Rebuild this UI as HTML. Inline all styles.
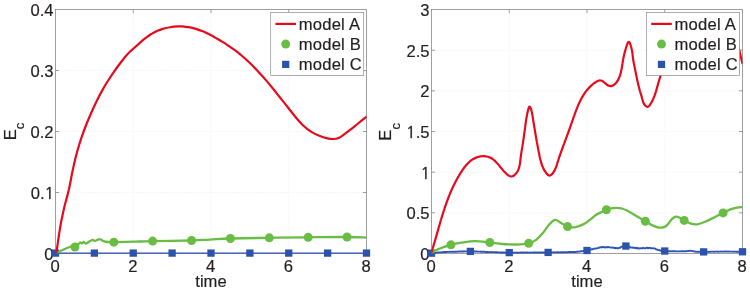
<!DOCTYPE html>
<html><head><meta charset="utf-8"><title>Ec vs time</title>
<style>html,body{margin:0;padding:0;background:#fff}svg{display:block}text{stroke:#231f20;stroke-width:.18px}</style></head>
<body>
<svg width="750" height="291" viewBox="0 0 750 291" font-family="'Liberation Sans', Arial, Helvetica, sans-serif" font-size="16.6" fill="#231f20">
<rect width="750" height="291" fill="#fff"/>
<line x1="133.25" y1="9.5" x2="133.25" y2="253.5" stroke="#eeeeee" stroke-width="1" stroke-dasharray="1 2"/>
<line x1="211.00" y1="9.5" x2="211.00" y2="253.5" stroke="#eeeeee" stroke-width="1" stroke-dasharray="1 2"/>
<line x1="288.75" y1="9.5" x2="288.75" y2="253.5" stroke="#eeeeee" stroke-width="1" stroke-dasharray="1 2"/>
<line x1="55.5" y1="192.50" x2="366.5" y2="192.50" stroke="#eeeeee" stroke-width="1" stroke-dasharray="1 2"/>
<line x1="55.5" y1="131.50" x2="366.5" y2="131.50" stroke="#eeeeee" stroke-width="1" stroke-dasharray="1 2"/>
<line x1="55.5" y1="70.50" x2="366.5" y2="70.50" stroke="#eeeeee" stroke-width="1" stroke-dasharray="1 2"/>
<rect x="55.5" y="9.5" width="311.0" height="244.0" fill="none" stroke="#808080" stroke-width="0.75"/>
<path d="M133.25 253.5v-3.5M133.25 9.5v3.5M211.00 253.5v-3.5M211.00 9.5v3.5M288.75 253.5v-3.5M288.75 9.5v3.5M55.5 192.50h3.5M366.5 192.50h-3.5M55.5 131.50h3.5M366.5 131.50h-3.5M55.5 70.50h3.5M366.5 70.50h-3.5" stroke="#808080" stroke-width="0.75" fill="none"/>
<text x="53.50" y="259.95" text-anchor="end">0</text>
<text x="54.10" y="198.95" text-anchor="end">0.<tspan font-family="NanumGothic, 'Liberation Sans', sans-serif" font-size="15.8" style="stroke-width:.45px">1</tspan></text>
<text x="53.50" y="137.95" text-anchor="end">0.2</text>
<text x="53.50" y="76.95" text-anchor="end">0.3</text>
<text x="53.50" y="15.95" text-anchor="end">0.4</text>
<text x="55.20" y="272.0" text-anchor="middle">0</text>
<text x="132.95" y="272.0" text-anchor="middle">2</text>
<text x="210.70" y="272.0" text-anchor="middle">4</text>
<text x="288.45" y="272.0" text-anchor="middle">6</text>
<text x="366.20" y="272.0" text-anchor="middle">8</text>
<text x="211.00" y="287" text-anchor="middle">time</text>
<text transform="translate(15.60 140.3) rotate(-90)">E<tspan dy="8.4" font-size="13.2">c</tspan></text>
<clipPath id="cp1"><rect x="55.5" y="9.5" width="311.0" height="244.0"/></clipPath>
<path d="M55.50 253.10C107.33 253.10 314.67 253.10 366.50 253.10" stroke="#3054b6" stroke-linejoin="round" stroke-width="1.4" fill="none"/>
<rect x="51.85" y="249.45" width="7.3" height="7.3" fill="#2c53ac"/>
<rect x="90.72" y="249.45" width="7.3" height="7.3" fill="#2c53ac"/>
<rect x="129.60" y="249.45" width="7.3" height="7.3" fill="#2c53ac"/>
<rect x="168.47" y="249.45" width="7.3" height="7.3" fill="#2c53ac"/>
<rect x="207.35" y="249.45" width="7.3" height="7.3" fill="#2c53ac"/>
<rect x="246.22" y="249.45" width="7.3" height="7.3" fill="#2c53ac"/>
<rect x="285.10" y="249.45" width="7.3" height="7.3" fill="#2c53ac"/>
<rect x="323.98" y="249.45" width="7.3" height="7.3" fill="#2c53ac"/>
<rect x="362.85" y="249.45" width="7.3" height="7.3" fill="#2c53ac"/>
<g clip-path="url(#cp1)" fill="none" stroke-linejoin="round">
<path d="M56.20 253.00C57.18 252.55 60.07 251.22 62.10 250.30C64.13 249.38 66.38 248.28 68.40 247.50C70.42 246.72 72.77 246.08 74.20 245.60C75.63 245.12 76.18 244.93 77.00 244.60C77.82 244.27 78.53 243.95 79.10 243.60C79.67 243.25 79.95 242.53 80.40 242.50C80.85 242.47 81.27 243.48 81.80 243.40C82.33 243.32 83.08 242.03 83.60 242.00C84.12 241.97 84.45 242.97 84.90 243.20C85.35 243.43 85.63 243.63 86.30 243.40C86.97 243.17 88.02 242.33 88.90 241.80C89.78 241.27 90.93 240.52 91.60 240.20C92.27 239.88 92.38 239.78 92.90 239.90C93.42 240.02 94.02 240.88 94.70 240.90C95.38 240.92 96.18 240.30 97.00 240.00C97.82 239.70 98.87 239.12 99.60 239.10C100.33 239.08 100.65 239.52 101.40 239.90C102.15 240.28 103.00 241.05 104.10 241.40C105.20 241.75 106.35 241.87 108.00 242.00C109.65 242.13 109.83 242.25 114.00 242.20C118.17 242.15 126.60 241.88 133.00 241.70C139.40 241.52 142.77 241.30 152.40 241.10C162.03 240.90 181.20 240.75 190.80 240.50C200.40 240.25 203.38 239.93 210.00 239.60C216.62 239.27 220.57 238.80 230.50 238.50C240.43 238.20 256.58 238.00 269.60 237.80C282.62 237.60 295.67 237.43 308.60 237.30C321.53 237.17 337.53 236.95 347.20 237.00C356.87 237.05 363.37 237.50 366.60 237.60" stroke="#69bd45" stroke-width="2.3"/>
</g>
<circle cx="74.94" cy="247.00" r="4.5" fill="#69bd45"/>
<circle cx="113.81" cy="242.19" r="4.5" fill="#69bd45"/>
<circle cx="152.69" cy="241.10" r="4.5" fill="#69bd45"/>
<circle cx="191.56" cy="240.46" r="4.5" fill="#69bd45"/>
<circle cx="230.44" cy="238.50" r="4.5" fill="#69bd45"/>
<circle cx="269.31" cy="237.81" r="4.5" fill="#69bd45"/>
<circle cx="308.19" cy="237.31" r="4.5" fill="#69bd45"/>
<circle cx="347.06" cy="237.00" r="4.5" fill="#69bd45"/>
<g clip-path="url(#cp1)" fill="none" stroke-linejoin="round">
<path d="M56.40 253.20C56.63 251.48 57.37 246.02 57.80 242.90C58.23 239.78 58.63 236.90 59.00 234.50C59.37 232.10 59.67 230.50 60.00 228.50C60.33 226.50 60.67 224.30 61.00 222.50C61.33 220.70 61.63 219.43 62.00 217.70C62.37 215.97 62.80 213.92 63.20 212.10C63.60 210.28 63.87 208.97 64.40 206.80C64.93 204.63 65.65 201.97 66.40 199.10C67.15 196.23 67.92 194.08 68.90 189.60C69.88 185.12 71.15 177.68 72.30 172.20C73.45 166.72 74.65 161.28 75.80 156.70C76.95 152.12 78.07 148.42 79.20 144.70C80.33 140.98 81.45 137.69 82.60 134.40C83.75 131.11 84.85 128.12 86.10 124.97C87.35 121.81 88.77 118.53 90.10 115.45C91.43 112.37 92.77 109.36 94.10 106.49C95.43 103.61 96.77 100.85 98.10 98.21C99.43 95.57 100.77 93.06 102.10 90.65C103.43 88.25 104.77 85.98 106.10 83.79C107.43 81.59 108.77 79.52 110.10 77.49C111.43 75.46 112.77 73.51 114.10 71.59C115.43 69.68 116.77 67.82 118.10 66.00C119.43 64.19 120.77 62.41 122.10 60.71C123.43 59.01 124.77 57.34 126.10 55.81C127.43 54.28 128.77 52.80 130.10 51.51C131.43 50.21 132.77 49.21 134.10 48.04C135.43 46.86 136.77 45.66 138.10 44.46C139.43 43.26 140.77 42.00 142.10 40.87C143.43 39.74 144.77 38.70 146.10 37.68C147.43 36.67 148.77 35.66 150.10 34.78C151.43 33.91 152.77 33.13 154.10 32.43C155.43 31.73 156.77 31.13 158.10 30.58C159.43 30.04 160.77 29.57 162.10 29.15C163.43 28.72 164.77 28.36 166.10 28.04C167.43 27.72 168.77 27.45 170.10 27.23C171.43 27.00 172.77 26.82 174.10 26.69C175.43 26.55 176.77 26.46 178.10 26.43C179.43 26.39 180.77 26.40 182.10 26.46C183.43 26.52 184.77 26.63 186.10 26.79C187.43 26.95 188.77 27.17 190.10 27.43C191.43 27.69 192.77 28.00 194.10 28.36C195.43 28.72 196.77 29.14 198.10 29.59C199.43 30.04 200.77 30.55 202.10 31.09C203.43 31.63 204.77 32.21 206.10 32.83C207.43 33.45 208.77 34.10 210.10 34.79C211.43 35.47 212.77 36.18 214.10 36.92C215.43 37.65 216.77 38.41 218.10 39.19C219.43 39.97 220.77 40.77 222.10 41.59C223.43 42.41 224.77 43.25 226.10 44.12C227.43 44.99 228.77 45.88 230.10 46.81C231.43 47.73 232.77 48.68 234.10 49.67C235.43 50.66 236.77 51.68 238.10 52.73C239.43 53.79 240.77 54.88 242.10 56.01C243.43 57.14 244.77 58.31 246.10 59.52C247.43 60.73 248.77 61.97 250.10 63.26C251.43 64.54 252.77 65.86 254.10 67.22C255.43 68.58 256.77 69.98 258.10 71.42C259.43 72.85 260.77 74.32 262.10 75.82C263.43 77.32 264.77 78.85 266.10 80.41C267.43 81.97 268.77 83.56 270.10 85.17C271.43 86.78 272.77 88.42 274.10 90.07C275.43 91.72 276.77 93.39 278.10 95.07C279.43 96.74 280.77 98.44 282.10 100.12C283.43 101.81 284.77 103.50 286.10 105.18C287.43 106.86 288.53 108.23 290.10 110.20C291.67 112.17 293.32 114.45 295.50 117.00C297.68 119.55 300.62 123.05 303.20 125.50C305.78 127.95 308.42 130.02 311.00 131.70C313.58 133.38 316.13 134.53 318.70 135.60C321.27 136.67 323.95 137.53 326.40 138.10C328.85 138.67 331.33 139.03 333.40 139.00C335.47 138.97 337.12 138.60 338.80 137.90C340.48 137.20 341.68 136.08 343.50 134.80C345.32 133.52 347.38 132.00 349.70 130.20C352.02 128.40 354.58 126.27 357.40 124.00C360.22 121.73 365.07 117.83 366.60 116.60" stroke="#e60a1c" stroke-width="2.2"/>
</g>
<rect x="270.7" y="12.5" width="93.0" height="62.900000000000006" fill="#fff" stroke="#8c8c8c" stroke-width="0.7"/>
<line x1="275.40" y1="23.9" x2="296.00" y2="23.9" stroke="#e60a1c" stroke-width="2.2"/>
<circle cx="285.70" cy="44.1" r="4.5" fill="#69bd45"/>
<rect x="282.10" y="60.80" width="7.2" height="7.2" fill="#2c53ac"/>
<text x="298.70" y="29.6" letter-spacing="0.22">model A</text>
<text x="298.70" y="50.0" letter-spacing="0.22">model B</text>
<text x="298.70" y="70.2" letter-spacing="0.22">model C</text>
<line x1="509.25" y1="9.5" x2="509.25" y2="253.5" stroke="#eeeeee" stroke-width="1" stroke-dasharray="1 2"/>
<line x1="587.00" y1="9.5" x2="587.00" y2="253.5" stroke="#eeeeee" stroke-width="1" stroke-dasharray="1 2"/>
<line x1="664.75" y1="9.5" x2="664.75" y2="253.5" stroke="#eeeeee" stroke-width="1" stroke-dasharray="1 2"/>
<line x1="431.5" y1="212.83" x2="742.5" y2="212.83" stroke="#eeeeee" stroke-width="1" stroke-dasharray="1 2"/>
<line x1="431.5" y1="172.17" x2="742.5" y2="172.17" stroke="#eeeeee" stroke-width="1" stroke-dasharray="1 2"/>
<line x1="431.5" y1="131.50" x2="742.5" y2="131.50" stroke="#eeeeee" stroke-width="1" stroke-dasharray="1 2"/>
<line x1="431.5" y1="90.83" x2="742.5" y2="90.83" stroke="#eeeeee" stroke-width="1" stroke-dasharray="1 2"/>
<line x1="431.5" y1="50.16" x2="742.5" y2="50.16" stroke="#eeeeee" stroke-width="1" stroke-dasharray="1 2"/>
<rect x="431.5" y="9.5" width="311.0" height="244.0" fill="none" stroke="#808080" stroke-width="0.75"/>
<path d="M509.25 253.5v-3.5M509.25 9.5v3.5M587.00 253.5v-3.5M587.00 9.5v3.5M664.75 253.5v-3.5M664.75 9.5v3.5M431.5 212.83h3.5M742.5 212.83h-3.5M431.5 172.17h3.5M742.5 172.17h-3.5M431.5 131.50h3.5M742.5 131.50h-3.5M431.5 90.83h3.5M742.5 90.83h-3.5M431.5 50.16h3.5M742.5 50.16h-3.5" stroke="#808080" stroke-width="0.75" fill="none"/>
<text x="429.50" y="259.95" text-anchor="end">0</text>
<text x="429.50" y="219.28" text-anchor="end">0.5</text>
<text x="430.10" y="178.62" text-anchor="end"><tspan font-family="NanumGothic, 'Liberation Sans', sans-serif" font-size="15.8" style="stroke-width:.45px">1</tspan></text>
<text x="429.50" y="137.95" text-anchor="end"><tspan font-family="NanumGothic, 'Liberation Sans', sans-serif" font-size="15.8" style="stroke-width:.45px">1</tspan>.5</text>
<text x="429.50" y="97.28" text-anchor="end">2</text>
<text x="429.50" y="56.61" text-anchor="end">2.5</text>
<text x="429.50" y="15.95" text-anchor="end">3</text>
<text x="431.20" y="272.0" text-anchor="middle">0</text>
<text x="508.95" y="272.0" text-anchor="middle">2</text>
<text x="586.70" y="272.0" text-anchor="middle">4</text>
<text x="664.45" y="272.0" text-anchor="middle">6</text>
<text x="742.20" y="272.0" text-anchor="middle">8</text>
<text x="587.00" y="287" text-anchor="middle">time</text>
<text transform="translate(391.10 140.7) rotate(-90)">E<tspan dy="8.4" font-size="13.2">c</tspan></text>
<clipPath id="cp2"><rect x="431.5" y="9.5" width="311.0" height="244.0"/></clipPath>
<path d="M431.30 253.21L432.10 253.16L432.90 252.99L433.70 252.96L434.50 252.95L435.30 252.88L436.10 252.64L436.90 252.58L437.70 252.48L438.50 252.49L439.30 252.33L440.10 252.35L440.90 252.33L441.70 252.19L442.50 252.21L443.30 252.14L444.10 251.98L444.90 252.04L445.70 251.94L446.50 251.93L447.30 251.87L448.10 251.92L448.90 251.85L449.70 251.76L450.50 251.81L451.30 251.83L452.10 251.71L452.90 251.67L453.70 251.68L454.50 251.76L455.30 251.75L456.10 251.66L456.90 251.69L457.70 251.65L458.50 251.54L459.30 251.46L460.10 251.56L460.90 251.52L461.70 251.46L462.50 251.42L463.30 251.44L464.10 251.44L464.90 251.39L465.70 251.39L466.50 251.41L467.30 251.48L468.10 251.42L468.90 251.36L469.70 251.36L470.50 251.39L471.30 251.34L472.10 251.35L472.90 251.42L473.70 251.35L474.50 251.45L475.30 251.44L476.10 251.54L476.90 251.57L477.70 251.59L478.50 251.62L479.30 251.59L480.10 251.68L480.90 251.65L481.70 251.73L482.50 251.72L483.30 251.78L484.10 251.74L484.90 251.82L485.70 252.00L486.50 251.89L487.30 252.02L488.10 252.05L488.90 252.10L489.70 252.08L490.50 252.13L491.30 252.06L492.10 252.09L492.90 252.14L493.70 252.15L494.50 252.17L495.30 252.20L496.10 252.31L496.90 252.26L497.70 252.44L498.50 252.42L499.30 252.41L500.10 252.47L500.90 252.41L501.70 252.57L502.50 252.57L503.30 252.57L504.10 252.54L504.90 252.63L505.70 252.62L506.50 252.62L507.30 252.68L508.10 252.62L508.90 252.57L509.70 252.61L510.50 252.54L511.30 252.54L512.10 252.65L512.90 252.66L513.70 252.69L514.50 252.67L515.30 252.61L516.10 252.52L516.90 252.60L517.70 252.69L518.50 252.66L519.30 252.60L520.10 252.59L520.90 252.54L521.70 252.54L522.50 252.51L523.30 252.68L524.10 252.63L524.90 252.53L525.70 252.58L526.50 252.51L527.30 252.54L528.10 252.65L528.90 252.63L529.70 252.59L530.50 252.55L531.30 252.62L532.10 252.67L532.90 252.56L533.70 252.48L534.50 252.47L535.30 252.47L536.10 252.64L536.90 252.55L537.70 252.60L538.50 252.45L539.30 252.46L540.10 252.54L540.90 252.57L541.70 252.45L542.50 252.38L543.30 252.53L544.10 252.41L544.90 252.49L545.70 252.36L546.50 252.46L547.30 252.48L548.10 252.45L548.90 252.36L549.70 252.43L550.50 252.30L551.30 252.33L552.10 252.34L552.90 252.42L553.70 252.27L554.50 252.40L555.30 252.38L556.10 252.40L556.90 252.27L557.70 252.23L558.50 252.23L559.30 252.33L560.10 252.35L560.90 252.29L561.70 252.23L562.50 252.18L563.30 252.27L564.10 252.27L564.90 252.10L565.70 252.11L566.50 252.21L567.30 252.20L568.10 252.08L568.90 252.05L569.70 252.06L570.50 252.06L571.30 251.95L572.10 252.08L572.90 251.99L573.70 252.00L574.50 251.85L575.30 251.95L576.10 251.85L576.90 251.71L577.70 251.76L578.50 251.63L579.30 251.58L580.10 251.34L580.90 251.25L581.70 251.29L582.50 251.10L583.30 251.04L584.10 250.86L584.90 250.92L585.70 250.71L586.50 250.67L587.30 250.38L588.10 250.30L588.90 249.79L589.70 250.27L590.50 249.75L591.30 249.26L592.10 249.07L592.90 249.25L593.70 248.68L594.50 248.57L595.30 248.59L596.10 248.46L596.90 248.32L597.70 248.14L598.50 247.72L599.30 247.72L600.10 247.18L600.90 247.13L601.70 247.47L602.50 246.92L603.30 247.04L604.10 247.18L604.90 247.49L605.70 247.19L606.50 247.19L607.30 247.37L608.10 246.94L608.90 247.25L609.70 247.40L610.50 247.41L611.30 247.71L612.10 247.63L612.90 247.47L613.70 247.91L614.50 247.96L615.30 248.24L616.10 247.95L616.90 248.07L617.70 248.55L618.50 247.96L619.30 247.81L620.10 247.90L620.90 247.05L621.70 246.64L622.50 246.71L623.30 246.24L624.10 246.00L624.90 245.43L625.70 245.83L626.50 245.74L627.30 246.20L628.10 246.79L628.90 246.44L629.70 246.78L630.50 247.47L631.30 247.59L632.10 247.34L632.90 247.68L633.70 247.74L634.50 247.75L635.30 248.19L636.10 247.77L636.90 248.40L637.70 247.85L638.50 248.57L639.30 248.44L640.10 248.25L640.90 248.40L641.70 248.19L642.50 248.39L643.30 247.80L644.10 248.07L644.90 248.32L645.70 248.34L646.50 247.78L647.30 247.81L648.10 248.35L648.90 247.93L649.70 247.73L650.50 248.30L651.30 248.10L652.10 248.41L652.90 248.26L653.70 248.36L654.50 248.46L655.30 248.60L656.10 249.36L656.90 249.47L657.70 249.84L658.50 250.17L659.30 249.85L660.10 250.58L660.90 250.73L661.70 250.63L662.50 250.80L663.30 250.84L664.10 251.05L664.90 250.97L665.70 251.08L666.50 251.03L667.30 251.05L668.10 251.18L668.90 251.17L669.70 251.23L670.50 251.27L671.30 251.32L672.10 251.16L672.90 251.29L673.70 251.29L674.50 251.32L675.30 251.32L676.10 251.33L676.90 251.41L677.70 251.34L678.50 251.37L679.30 251.41L680.10 251.30L680.90 251.37L681.70 251.31L682.50 251.32L683.30 251.30L684.10 251.34L684.90 251.31L685.70 251.29L686.50 251.19L687.30 251.12L688.10 250.94L688.90 250.93L689.70 250.78L690.50 250.86L691.30 250.90L692.10 251.03L692.90 251.11L693.70 251.40L694.50 251.53L695.30 251.55L696.10 251.74L696.90 251.90L697.70 251.73L698.50 251.80L699.30 251.90L700.10 251.78L700.90 251.93L701.70 251.91L702.50 251.94L703.30 251.91L704.10 251.99L704.90 251.86L705.70 251.90L706.50 251.78L707.30 251.87L708.10 251.82L708.90 251.92L709.70 251.89L710.50 251.71L711.30 251.67L712.10 251.66L712.90 251.66L713.70 251.74L714.50 251.68L715.30 251.66L716.10 251.63L716.90 251.53L717.70 251.59L718.50 251.71L719.30 251.67L720.10 251.61L720.90 251.54L721.70 251.68L722.50 251.59L723.30 251.63L724.10 251.54L724.90 251.57L725.70 251.57L726.50 251.59L727.30 251.52L728.10 251.65L728.90 251.55L729.70 251.64L730.50 251.65L731.30 251.67L732.10 251.60L732.90 251.60L733.70 251.70L734.50 251.64L735.30 251.60L736.10 251.76L736.90 251.60L737.70 251.78L738.50 251.68L739.30 251.71L740.10 251.84L740.90 251.75L741.70 251.83L742.40 251.78" stroke="#3054b6" stroke-linejoin="round" stroke-width="1.9" fill="none"/>
<rect x="427.85" y="249.53" width="7.3" height="7.3" fill="#2c53ac"/>
<rect x="466.73" y="247.75" width="7.3" height="7.3" fill="#2c53ac"/>
<rect x="505.60" y="248.95" width="7.3" height="7.3" fill="#2c53ac"/>
<rect x="544.48" y="248.75" width="7.3" height="7.3" fill="#2c53ac"/>
<rect x="583.35" y="246.85" width="7.3" height="7.3" fill="#2c53ac"/>
<rect x="622.23" y="242.40" width="7.3" height="7.3" fill="#2c53ac"/>
<rect x="661.10" y="247.37" width="7.3" height="7.3" fill="#2c53ac"/>
<rect x="699.98" y="248.24" width="7.3" height="7.3" fill="#2c53ac"/>
<rect x="738.85" y="248.15" width="7.3" height="7.3" fill="#2c53ac"/>
<g clip-path="url(#cp2)" fill="none" stroke-linejoin="round">
<path d="M431.30 253.00C432.52 252.33 435.38 250.35 438.60 249.00C441.82 247.65 446.82 245.95 450.60 244.90C454.38 243.85 457.25 243.33 461.30 242.70C465.35 242.07 470.18 241.13 474.90 241.10C479.62 241.07 485.07 242.02 489.60 242.50C494.13 242.98 497.75 243.67 502.10 244.00C506.45 244.33 511.23 244.62 515.70 244.50C520.17 244.38 525.50 244.07 528.90 243.30C532.30 242.53 533.77 241.60 536.10 239.90C538.43 238.20 540.82 235.55 542.90 233.10C544.98 230.65 546.90 227.27 548.60 225.20C550.30 223.13 551.85 221.57 553.10 220.70C554.35 219.83 554.77 219.63 556.10 220.00C557.43 220.37 559.22 221.80 561.10 222.90C562.98 224.00 565.13 225.87 567.40 226.60C569.67 227.33 571.98 227.72 574.70 227.30C577.42 226.88 581.15 225.37 583.70 224.10C586.25 222.83 588.03 221.18 590.00 219.70C591.97 218.22 593.83 216.33 595.50 215.20C597.17 214.07 598.22 213.80 600.00 212.90C601.78 212.00 604.37 210.57 606.20 209.80C608.03 209.03 609.28 208.63 611.00 208.30C612.72 207.97 614.67 207.77 616.50 207.80C618.33 207.83 620.17 208.00 622.00 208.50C623.83 209.00 625.67 209.88 627.50 210.80C629.33 211.72 631.17 212.92 633.00 214.00C634.83 215.08 636.50 216.12 638.50 217.30C640.50 218.48 642.95 219.90 645.00 221.10C647.05 222.30 648.92 223.53 650.80 224.50C652.68 225.47 654.70 226.37 656.30 226.90C657.90 227.43 659.02 227.70 660.40 227.70C661.78 227.70 663.33 227.50 664.60 226.90C665.87 226.30 666.98 225.18 668.00 224.10C669.02 223.02 669.78 221.47 670.70 220.40C671.62 219.33 672.58 218.33 673.50 217.70C674.42 217.07 675.17 216.60 676.20 216.60C677.23 216.60 678.38 217.07 679.70 217.70C681.02 218.33 682.23 219.40 684.10 220.40C685.97 221.40 688.73 223.05 690.90 223.70C693.07 224.35 694.77 224.62 697.10 224.30C699.43 223.98 702.07 222.93 704.90 221.80C707.73 220.67 711.12 218.97 714.10 217.50C717.08 216.03 719.97 214.38 722.80 213.00C725.63 211.62 728.68 210.10 731.10 209.20C733.52 208.30 735.42 207.97 737.30 207.60C739.18 207.23 741.55 207.10 742.40 207.00" stroke="#69bd45" stroke-width="2.3"/>
</g>
<circle cx="450.94" cy="244.83" r="4.5" fill="#69bd45"/>
<circle cx="489.81" cy="242.53" r="4.5" fill="#69bd45"/>
<circle cx="528.69" cy="243.32" r="4.5" fill="#69bd45"/>
<circle cx="567.56" cy="226.62" r="4.5" fill="#69bd45"/>
<circle cx="606.44" cy="209.73" r="4.5" fill="#69bd45"/>
<circle cx="645.31" cy="221.28" r="4.5" fill="#69bd45"/>
<circle cx="684.19" cy="220.44" r="4.5" fill="#69bd45"/>
<circle cx="723.06" cy="212.88" r="4.5" fill="#69bd45"/>
<g clip-path="url(#cp2)" fill="none" stroke-linejoin="round">
<path d="M431.22 253.03C431.29 252.83 431.49 252.20 431.62 251.79C431.75 251.37 431.88 250.96 432.01 250.54C432.14 250.13 432.27 249.71 432.40 249.29C432.53 248.88 432.66 248.46 432.78 248.05C432.91 247.63 433.04 247.22 433.16 246.80C433.29 246.38 433.41 245.97 433.54 245.55C433.66 245.14 433.79 244.72 433.91 244.31C434.03 243.89 434.16 243.48 434.28 243.06C434.40 242.65 434.52 242.23 434.65 241.82C434.77 241.40 434.89 240.99 435.01 240.57C435.13 240.16 435.25 239.74 435.37 239.33C435.49 238.91 435.61 238.50 435.73 238.08C435.85 237.67 435.97 237.25 436.09 236.84C436.20 236.43 436.32 236.01 436.44 235.60C436.56 235.18 436.68 234.77 436.80 234.35C436.91 233.94 437.03 233.53 437.15 233.11C437.27 232.70 437.38 232.29 437.50 231.87C437.62 231.46 437.74 231.05 437.85 230.63C437.97 230.22 438.09 229.81 438.21 229.40C438.32 228.98 438.44 228.57 438.56 228.16C438.68 227.75 438.80 227.33 438.91 226.92C439.03 226.51 439.15 226.10 439.27 225.69C439.39 225.27 439.50 224.86 439.62 224.45C439.74 224.04 439.86 223.63 439.98 223.22C440.10 222.81 440.22 222.40 440.34 221.99C440.46 221.58 440.58 221.17 440.70 220.76C440.82 220.35 440.94 219.94 441.07 219.53C441.19 219.12 441.31 218.71 441.43 218.30C441.55 217.89 441.68 217.48 441.80 217.07C441.92 216.66 442.05 216.26 442.17 215.85C442.30 215.44 442.42 215.03 442.55 214.63C442.68 214.22 442.80 213.81 442.93 213.40C443.06 213.00 443.19 212.59 443.32 212.18C443.44 211.78 443.57 211.37 443.70 210.97C443.84 210.56 443.97 210.16 444.10 209.75C444.23 209.35 444.36 208.94 444.50 208.54C444.63 208.13 444.77 207.73 444.90 207.32C445.04 206.92 445.18 206.52 445.31 206.11C445.45 205.71 445.59 205.31 445.73 204.91C445.87 204.50 446.01 204.10 446.15 203.70C446.30 203.30 446.44 202.90 446.58 202.50C446.73 202.10 446.87 201.69 447.02 201.29C447.17 200.89 447.31 200.49 447.46 200.10C447.61 199.70 447.76 199.30 447.91 198.90C448.07 198.50 448.22 198.10 448.37 197.70C448.53 197.31 448.68 196.91 448.84 196.51C449.00 196.11 449.16 195.72 449.32 195.32C449.48 194.93 449.64 194.53 449.80 194.13C449.97 193.74 450.13 193.34 450.30 192.95C450.46 192.56 450.63 192.16 450.80 191.77C450.97 191.37 451.14 190.98 451.31 190.59C451.48 190.20 451.66 189.80 451.84 189.41C452.01 189.02 452.19 188.63 452.37 188.24C452.55 187.85 452.73 187.46 452.91 187.07C453.10 186.68 453.28 186.29 453.47 185.90C453.65 185.51 453.84 185.12 454.03 184.74C454.22 184.35 454.42 183.96 454.61 183.58C454.80 183.19 455.00 182.80 455.20 182.42C455.40 182.03 455.60 181.65 455.80 181.26C456.00 180.88 456.21 180.49 456.41 180.11C456.62 179.73 456.83 179.34 457.04 178.96C457.25 178.58 457.46 178.20 457.68 177.82C457.90 177.43 458.11 177.05 458.33 176.67C458.55 176.29 458.77 175.91 459.00 175.54C459.22 175.16 459.45 174.78 459.68 174.40C459.91 174.02 460.14 173.65 460.37 173.27C460.61 172.89 460.84 172.52 461.08 172.14C461.32 171.77 461.56 171.40 461.81 171.03C462.05 170.66 462.30 170.29 462.55 169.92C462.80 169.56 463.06 169.19 463.31 168.83C463.57 168.47 463.83 168.12 464.10 167.77C464.36 167.41 464.63 167.07 464.90 166.72C465.17 166.38 465.45 166.04 465.72 165.71C466.00 165.37 466.29 165.04 466.57 164.72C466.86 164.40 467.15 164.08 467.45 163.77C467.75 163.46 468.05 163.15 468.35 162.86C468.66 162.56 468.97 162.27 469.28 161.99C469.59 161.71 469.91 161.43 470.24 161.16C470.56 160.90 470.89 160.64 471.23 160.39C471.56 160.14 471.90 159.90 472.25 159.67C472.59 159.44 472.94 159.22 473.30 159.01C473.66 158.80 474.02 158.59 474.39 158.40C474.75 158.21 475.13 158.03 475.51 157.87C475.89 157.70 476.27 157.54 476.67 157.40C477.06 157.25 477.46 157.12 477.86 157.00C478.27 156.88 478.68 156.77 479.10 156.68C479.52 156.58 479.94 156.50 480.37 156.43C480.80 156.37 481.23 156.31 481.66 156.27C482.10 156.23 482.53 156.21 482.97 156.20C483.41 156.19 483.84 156.19 484.28 156.21C484.71 156.23 485.14 156.27 485.57 156.32C486.00 156.37 486.42 156.44 486.84 156.52C487.26 156.60 487.68 156.70 488.08 156.82C488.49 156.93 488.88 157.07 489.27 157.22C489.66 157.37 490.04 157.54 490.41 157.72C490.78 157.90 491.15 158.10 491.50 158.32C491.86 158.53 492.21 158.76 492.55 159.00C492.89 159.24 493.23 159.49 493.56 159.75C493.89 160.02 494.21 160.29 494.53 160.58C494.85 160.86 495.16 161.16 495.47 161.46C495.78 161.76 496.08 162.08 496.39 162.39C496.69 162.71 496.99 163.04 497.28 163.37C497.58 163.70 497.87 164.04 498.16 164.38C498.45 164.72 498.74 165.06 499.03 165.41C499.32 165.75 499.60 166.10 499.89 166.45C500.17 166.81 500.46 167.16 500.75 167.51C501.03 167.86 501.32 168.21 501.61 168.56C501.89 168.91 502.18 169.26 502.47 169.60C502.76 169.95 503.06 170.29 503.35 170.63C503.65 170.96 503.95 171.30 504.25 171.62C504.55 171.95 504.85 172.27 505.16 172.58C505.47 172.90 505.79 173.20 506.11 173.50C506.42 173.79 506.75 174.08 507.08 174.36C507.41 174.64 507.74 174.91 508.08 175.16C508.43 175.40 508.77 175.65 509.13 175.84C509.48 176.04 509.84 176.21 510.21 176.32C510.57 176.43 510.94 176.50 511.32 176.49C511.69 176.48 512.07 176.40 512.45 176.26C512.83 176.13 513.21 175.93 513.58 175.70C513.95 175.47 514.32 175.18 514.66 174.88C515.01 174.58 515.35 174.24 515.66 173.91C515.97 173.57 516.25 173.22 516.52 172.86C516.79 172.50 517.04 172.13 517.27 171.76C517.50 171.39 517.71 171.01 517.90 170.62C518.10 170.23 518.27 169.84 518.44 169.44C518.60 169.04 518.75 168.63 518.88 168.22C519.02 167.81 519.14 167.39 519.25 166.97C519.36 166.55 519.46 166.13 519.55 165.70C519.64 165.27 519.72 164.84 519.80 164.41C519.88 163.98 519.94 163.54 520.01 163.10C520.07 162.67 520.13 162.23 520.18 161.79C520.24 161.35 520.29 160.91 520.34 160.47C520.39 160.03 520.43 159.59 520.48 159.16C520.53 158.72 520.58 158.28 520.63 157.85C520.69 157.41 520.74 156.98 520.80 156.55C520.85 156.12 520.91 155.69 520.97 155.26C521.03 154.83 521.09 154.40 521.16 153.98C521.22 153.55 521.29 153.13 521.35 152.70C521.42 152.28 521.48 151.86 521.55 151.44C521.62 151.01 521.69 150.59 521.76 150.17C521.83 149.75 521.90 149.33 521.97 148.91C522.04 148.49 522.11 148.07 522.18 147.65C522.25 147.23 522.32 146.81 522.39 146.39C522.45 145.97 522.52 145.54 522.59 145.12C522.66 144.70 522.73 144.28 522.79 143.85C522.86 143.43 522.92 143.01 522.99 142.58C523.05 142.16 523.12 141.73 523.18 141.31C523.25 140.88 523.31 140.45 523.37 140.03C523.43 139.60 523.49 139.17 523.56 138.75C523.62 138.32 523.68 137.89 523.74 137.47C523.80 137.04 523.86 136.61 523.92 136.18C523.98 135.76 524.04 135.33 524.09 134.90C524.15 134.47 524.21 134.05 524.27 133.62C524.33 133.19 524.38 132.76 524.44 132.34C524.50 131.91 524.56 131.48 524.61 131.06C524.67 130.63 524.73 130.20 524.79 129.78C524.84 129.35 524.90 128.93 524.96 128.50C525.01 128.08 525.07 127.65 525.13 127.23C525.18 126.80 525.24 126.38 525.30 125.96C525.36 125.53 525.41 125.11 525.47 124.69C525.53 124.27 525.58 123.85 525.64 123.43C525.70 123.01 525.76 122.59 525.82 122.17C525.88 121.75 525.94 121.33 526.00 120.91C526.06 120.49 526.13 120.07 526.19 119.65C526.26 119.23 526.33 118.81 526.40 118.38C526.47 117.96 526.54 117.54 526.61 117.11C526.69 116.69 526.76 116.26 526.84 115.83C526.92 115.40 527.01 114.97 527.09 114.54C527.18 114.11 527.27 113.67 527.36 113.24C527.46 112.80 527.56 112.36 527.66 111.92C527.76 111.48 527.87 111.03 527.98 110.58C528.09 110.13 528.21 109.67 528.33 109.23C528.45 108.78 528.58 108.28 528.71 107.90C528.85 107.51 528.99 107.11 529.14 106.90C529.30 106.70 529.47 106.59 529.65 106.66C529.82 106.72 530.02 107.00 530.21 107.31C530.40 107.62 530.60 108.09 530.77 108.51C530.94 108.94 531.10 109.42 531.24 109.87C531.39 110.31 531.51 110.76 531.62 111.20C531.73 111.63 531.83 112.07 531.92 112.50C532.01 112.93 532.09 113.36 532.17 113.79C532.24 114.22 532.31 114.65 532.38 115.07C532.45 115.50 532.52 115.92 532.59 116.35C532.65 116.77 532.72 117.20 532.79 117.62C532.86 118.05 532.93 118.47 533.00 118.90C533.07 119.32 533.13 119.75 533.20 120.17C533.27 120.60 533.34 121.02 533.41 121.45C533.48 121.87 533.54 122.30 533.61 122.72C533.68 123.15 533.75 123.57 533.82 123.99C533.89 124.42 533.96 124.84 534.03 125.27C534.10 125.69 534.17 126.11 534.24 126.54C534.31 126.96 534.37 127.39 534.44 127.81C534.51 128.23 534.58 128.66 534.65 129.08C534.72 129.50 534.80 129.93 534.87 130.35C534.94 130.77 535.01 131.20 535.08 131.62C535.15 132.04 535.22 132.46 535.29 132.89C535.36 133.31 535.43 133.73 535.51 134.16C535.58 134.58 535.65 135.00 535.72 135.42C535.80 135.85 535.87 136.27 535.94 136.69C536.01 137.11 536.09 137.54 536.16 137.96C536.24 138.38 536.31 138.80 536.38 139.23C536.46 139.65 536.53 140.07 536.61 140.49C536.68 140.92 536.76 141.34 536.83 141.76C536.91 142.18 536.99 142.60 537.06 143.03C537.14 143.45 537.22 143.87 537.29 144.29C537.37 144.71 537.45 145.14 537.53 145.56C537.61 145.98 537.68 146.40 537.76 146.82C537.84 147.25 537.92 147.67 538.00 148.09C538.08 148.51 538.16 148.93 538.24 149.36C538.32 149.78 538.41 150.20 538.49 150.62C538.57 151.04 538.65 151.47 538.74 151.89C538.82 152.31 538.90 152.73 538.99 153.15C539.07 153.57 539.16 154.00 539.24 154.42C539.33 154.84 539.41 155.26 539.50 155.68C539.59 156.11 539.67 156.53 539.76 156.95C539.86 157.37 539.95 157.79 540.04 158.21C540.14 158.63 540.23 159.05 540.34 159.47C540.44 159.88 540.54 160.30 540.65 160.72C540.76 161.13 540.87 161.55 540.99 161.96C541.11 162.37 541.23 162.79 541.36 163.19C541.49 163.60 541.62 164.01 541.76 164.42C541.90 164.82 542.05 165.23 542.20 165.63C542.36 166.03 542.52 166.43 542.68 166.83C542.85 167.23 543.03 167.62 543.21 168.01C543.40 168.40 543.59 168.79 543.79 169.18C544.00 169.57 544.21 169.95 544.43 170.33C544.65 170.71 544.88 171.09 545.13 171.46C545.37 171.83 545.62 172.20 545.89 172.57C546.15 172.93 546.43 173.31 546.71 173.65C547.00 173.98 547.30 174.33 547.60 174.60C547.91 174.87 548.22 175.13 548.54 175.29C548.85 175.45 549.18 175.55 549.51 175.55C549.83 175.56 550.16 175.46 550.49 175.31C550.82 175.16 551.14 174.92 551.46 174.65C551.78 174.38 552.09 174.04 552.39 173.69C552.69 173.34 552.98 172.95 553.25 172.57C553.51 172.19 553.77 171.79 554.00 171.40C554.24 171.00 554.46 170.60 554.67 170.20C554.87 169.80 555.07 169.40 555.25 168.99C555.43 168.58 555.60 168.17 555.77 167.76C555.93 167.35 556.08 166.94 556.23 166.52C556.38 166.11 556.52 165.70 556.66 165.28C556.79 164.87 556.92 164.45 557.06 164.04C557.19 163.62 557.31 163.21 557.44 162.79C557.57 162.38 557.70 161.97 557.83 161.56C557.97 161.14 558.10 160.73 558.23 160.33C558.36 159.92 558.50 159.51 558.63 159.10C558.76 158.69 558.90 158.29 559.03 157.88C559.17 157.48 559.30 157.07 559.44 156.67C559.58 156.26 559.72 155.86 559.85 155.46C559.99 155.06 560.13 154.66 560.27 154.25C560.41 153.85 560.55 153.45 560.69 153.05C560.83 152.65 560.97 152.26 561.11 151.86C561.25 151.46 561.39 151.06 561.54 150.66C561.68 150.27 561.82 149.87 561.96 149.47C562.11 149.07 562.25 148.68 562.39 148.28C562.54 147.89 562.68 147.49 562.83 147.09C562.97 146.70 563.12 146.30 563.26 145.91C563.41 145.51 563.55 145.12 563.70 144.72C563.85 144.33 563.99 143.93 564.14 143.54C564.28 143.14 564.43 142.75 564.58 142.35C564.73 141.96 564.87 141.56 565.02 141.17C565.17 140.77 565.31 140.38 565.46 139.98C565.61 139.58 565.76 139.19 565.90 138.79C566.05 138.40 566.20 138.00 566.35 137.60C566.49 137.21 566.64 136.81 566.79 136.41C566.94 136.01 567.09 135.62 567.23 135.22C567.38 134.82 567.53 134.42 567.68 134.02C567.82 133.62 567.97 133.22 568.12 132.82C568.27 132.42 568.41 132.02 568.56 131.61C568.71 131.21 568.85 130.81 569.00 130.40C569.15 130.00 569.29 129.59 569.44 129.19C569.59 128.78 569.73 128.38 569.88 127.97C570.02 127.56 570.17 127.15 570.31 126.74C570.46 126.33 570.60 125.92 570.75 125.51C570.89 125.10 571.04 124.69 571.18 124.27C571.32 123.86 571.47 123.45 571.61 123.03C571.76 122.62 571.90 122.20 572.04 121.78C572.19 121.37 572.33 120.95 572.47 120.53C572.62 120.12 572.76 119.70 572.91 119.28C573.05 118.86 573.20 118.44 573.34 118.02C573.49 117.61 573.64 117.19 573.78 116.77C573.93 116.35 574.08 115.93 574.23 115.52C574.37 115.10 574.52 114.68 574.68 114.26C574.83 113.85 574.98 113.43 575.13 113.01C575.28 112.60 575.44 112.18 575.59 111.77C575.75 111.35 575.90 110.94 576.06 110.52C576.22 110.11 576.38 109.70 576.54 109.29C576.70 108.88 576.87 108.47 577.03 108.06C577.20 107.65 577.36 107.24 577.53 106.84C577.70 106.43 577.87 106.03 578.04 105.63C578.21 105.22 578.39 104.82 578.57 104.42C578.74 104.03 578.92 103.63 579.10 103.23C579.28 102.84 579.47 102.44 579.65 102.05C579.84 101.66 580.03 101.27 580.22 100.89C580.41 100.50 580.61 100.12 580.80 99.73C581.00 99.35 581.20 98.97 581.40 98.60C581.61 98.22 581.81 97.84 582.02 97.47C582.23 97.10 582.44 96.73 582.66 96.37C582.88 96.00 583.10 95.64 583.32 95.28C583.54 94.92 583.77 94.57 584.00 94.21C584.23 93.86 584.46 93.51 584.70 93.17C584.93 92.82 585.17 92.48 585.42 92.14C585.66 91.80 585.91 91.47 586.16 91.13C586.42 90.80 586.67 90.48 586.93 90.15C587.19 89.83 587.46 89.51 587.73 89.19C588.00 88.88 588.27 88.57 588.55 88.26C588.83 87.96 589.11 87.65 589.40 87.36C589.69 87.06 589.98 86.77 590.28 86.48C590.57 86.19 590.88 85.90 591.18 85.63C591.49 85.35 591.80 85.07 592.12 84.80C592.44 84.54 592.76 84.27 593.09 84.01C593.41 83.75 593.75 83.50 594.08 83.25C594.42 83.00 594.77 82.76 595.12 82.52C595.47 82.29 595.82 82.05 596.18 81.83C596.54 81.61 596.91 81.39 597.28 81.21C597.65 81.02 598.03 80.85 598.41 80.73C598.79 80.60 599.18 80.50 599.57 80.46C599.96 80.41 600.36 80.40 600.76 80.47C601.16 80.53 601.57 80.64 601.98 80.83C602.39 81.02 602.81 81.29 603.23 81.59C603.65 81.88 604.07 82.25 604.49 82.61C604.91 82.97 605.34 83.37 605.76 83.72C606.18 84.08 606.60 84.45 607.02 84.75C607.44 85.05 607.85 85.32 608.26 85.52C608.67 85.71 609.08 85.85 609.47 85.93C609.87 86.02 610.26 86.04 610.65 86.03C611.03 86.01 611.41 85.94 611.78 85.84C612.15 85.74 612.51 85.60 612.86 85.42C613.21 85.25 613.55 85.04 613.88 84.81C614.22 84.58 614.54 84.32 614.84 84.04C615.15 83.77 615.45 83.47 615.73 83.16C616.01 82.86 616.28 82.54 616.54 82.21C616.80 81.88 617.05 81.54 617.28 81.19C617.52 80.84 617.74 80.47 617.95 80.11C618.16 79.74 618.36 79.36 618.55 78.97C618.75 78.59 618.93 78.20 619.10 77.80C619.27 77.40 619.44 76.99 619.59 76.58C619.75 76.17 619.89 75.75 620.03 75.33C620.17 74.91 620.30 74.48 620.42 74.05C620.55 73.62 620.67 73.19 620.78 72.76C620.89 72.32 620.99 71.88 621.09 71.44C621.19 71.00 621.29 70.56 621.38 70.12C621.47 69.68 621.55 69.24 621.64 68.80C621.72 68.36 621.80 67.92 621.87 67.49C621.95 67.05 622.02 66.61 622.09 66.18C622.16 65.75 622.22 65.32 622.29 64.89C622.36 64.47 622.42 64.04 622.49 63.63C622.55 63.21 622.61 62.80 622.68 62.39C622.74 61.99 622.80 61.59 622.87 61.19C622.93 60.80 623.00 60.41 623.06 60.03C623.13 59.65 623.20 59.27 623.27 58.89C623.34 58.52 623.41 58.14 623.48 57.77C623.56 57.39 623.63 57.02 623.71 56.64C623.79 56.27 623.87 55.89 623.96 55.51C624.05 55.13 624.14 54.74 624.23 54.35C624.33 53.96 624.43 53.56 624.53 53.16C624.63 52.75 624.74 52.34 624.86 51.91C624.97 51.49 625.09 51.06 625.21 50.61C625.34 50.17 625.47 49.71 625.61 49.24C625.75 48.77 625.89 48.28 626.04 47.78C626.19 47.28 626.35 46.76 626.52 46.23C626.69 45.70 626.86 45.13 627.04 44.62C627.22 44.11 627.41 43.58 627.60 43.17C627.79 42.76 627.99 42.37 628.19 42.15C628.39 41.93 628.59 41.81 628.80 41.84C629.00 41.88 629.21 42.10 629.42 42.38C629.62 42.67 629.83 43.10 630.02 43.55C630.21 44.00 630.40 44.56 630.58 45.08C630.75 45.60 630.92 46.16 631.06 46.69C631.21 47.21 631.34 47.71 631.46 48.21C631.58 48.70 631.69 49.17 631.79 49.64C631.89 50.10 631.97 50.55 632.05 50.99C632.13 51.44 632.20 51.86 632.26 52.29C632.33 52.71 632.38 53.12 632.44 53.53C632.49 53.94 632.54 54.34 632.58 54.73C632.63 55.13 632.67 55.52 632.71 55.91C632.76 56.30 632.80 56.69 632.84 57.07C632.88 57.46 632.93 57.85 632.97 58.24C633.02 58.63 633.07 59.02 633.13 59.41C633.19 59.81 633.25 60.21 633.32 60.61C633.38 61.02 633.46 61.43 633.53 61.84C633.61 62.26 633.69 62.67 633.78 63.09C633.86 63.51 633.95 63.93 634.04 64.35C634.12 64.78 634.21 65.20 634.30 65.63C634.39 66.05 634.47 66.47 634.56 66.90C634.65 67.32 634.73 67.75 634.82 68.17C634.90 68.60 634.99 69.02 635.07 69.44C635.16 69.87 635.25 70.29 635.33 70.72C635.42 71.14 635.50 71.57 635.59 71.99C635.67 72.42 635.76 72.84 635.84 73.26C635.93 73.69 636.01 74.11 636.10 74.54C636.19 74.96 636.27 75.38 636.36 75.81C636.45 76.23 636.53 76.65 636.62 77.07C636.71 77.50 636.80 77.92 636.89 78.34C636.98 78.76 637.07 79.18 637.16 79.60C637.25 80.02 637.34 80.44 637.43 80.86C637.52 81.28 637.62 81.70 637.71 82.12C637.81 82.54 637.90 82.96 638.00 83.37C638.10 83.79 638.19 84.21 638.29 84.62C638.39 85.04 638.49 85.45 638.60 85.87C638.70 86.28 638.80 86.69 638.91 87.10C639.01 87.52 639.12 87.93 639.23 88.34C639.34 88.75 639.45 89.16 639.56 89.57C639.67 89.97 639.79 90.38 639.90 90.79C640.02 91.19 640.14 91.60 640.25 92.01C640.37 92.41 640.49 92.82 640.61 93.22C640.73 93.63 640.85 94.04 640.98 94.45C641.10 94.86 641.22 95.27 641.34 95.68C641.46 96.09 641.58 96.51 641.70 96.93C641.82 97.34 641.95 97.76 642.06 98.19C642.18 98.61 642.30 99.04 642.42 99.47C642.54 99.91 642.65 100.35 642.78 100.78C642.90 101.21 643.03 101.65 643.18 102.07C643.33 102.49 643.49 102.92 643.68 103.32C643.88 103.72 644.09 104.12 644.34 104.49C644.59 104.86 644.87 105.22 645.19 105.55C645.51 105.87 645.90 106.20 646.26 106.42C646.63 106.64 647.04 106.83 647.39 106.86C647.75 106.89 648.09 106.79 648.40 106.61C648.71 106.44 648.99 106.12 649.26 105.81C649.53 105.50 649.78 105.12 650.03 104.76C650.28 104.40 650.52 104.03 650.75 103.66C650.98 103.29 651.20 102.92 651.42 102.54C651.63 102.17 651.84 101.79 652.04 101.41C652.24 101.03 652.44 100.64 652.62 100.26C652.81 99.87 652.99 99.48 653.17 99.09C653.35 98.70 653.52 98.31 653.68 97.91C653.85 97.52 654.01 97.12 654.16 96.72C654.32 96.32 654.47 95.92 654.61 95.52C654.76 95.12 654.90 94.71 655.04 94.31C655.18 93.90 655.31 93.49 655.44 93.09C655.57 92.68 655.70 92.27 655.83 91.86C655.95 91.44 656.08 91.03 656.20 90.62C656.32 90.21 656.44 89.79 656.56 89.38C656.68 88.96 656.79 88.55 656.91 88.13C657.02 87.72 657.14 87.30 657.25 86.89C657.37 86.47 657.48 86.05 657.59 85.64C657.71 85.22 657.82 84.80 657.94 84.39C658.05 83.97 658.17 83.56 658.28 83.14C658.40 82.72 658.52 82.31 658.64 81.89C658.75 81.48 658.88 81.06 659.00 80.65C659.12 80.24 659.25 79.82 659.38 79.41C659.50 79.00 659.63 78.59 659.76 78.18C659.90 77.77 660.03 77.36 660.16 76.95C660.30 76.54 660.44 76.13 660.57 75.72C660.71 75.31 660.85 74.90 660.99 74.49C661.13 74.09 661.27 73.68 661.41 73.27C661.55 72.86 661.69 72.46 661.83 72.05C661.97 71.64 662.11 71.24 662.25 70.83C662.39 70.42 662.54 70.02 662.68 69.61C662.81 69.21 662.95 68.80 663.09 68.39C663.23 67.99 663.37 67.58 663.51 67.17C663.64 66.77 663.78 66.36 663.91 65.95C664.05 65.55 664.18 65.14 664.31 64.73C664.44 64.33 664.57 63.92 664.69 63.51C664.82 63.10 664.95 62.69 665.07 62.28C665.19 61.88 665.32 61.47 665.44 61.06C665.56 60.65 665.68 60.24 665.80 59.83C665.92 59.42 666.03 59.01 666.15 58.60C666.27 58.19 666.38 57.78 666.49 57.37C666.61 56.96 666.72 56.55 666.83 56.13C666.95 55.72 667.06 55.31 667.17 54.90C667.28 54.49 667.39 54.08 667.50 53.66C667.61 53.25 667.72 52.84 667.82 52.43C667.93 52.01 668.04 51.60 668.15 51.19C668.26 50.77 668.36 50.36 668.47 49.95C668.58 49.53 668.69 49.12 668.79 48.70C668.90 48.29 669.01 47.88 669.11 47.46C669.22 47.05 669.33 46.63 669.43 46.22C669.54 45.80 669.65 45.39 669.76 44.97C669.87 44.56 669.97 44.14 670.08 43.73C670.19 43.31 670.30 42.90 670.41 42.48C670.52 42.06 670.63 41.65 670.74 41.23C670.85 40.81 670.97 40.40 671.08 39.98C671.19 39.57 671.30 39.15 671.42 38.73C671.53 38.32 671.65 37.90 671.77 37.48C671.88 37.06 672.00 36.65 672.12 36.23C672.24 35.81 672.36 35.39 672.48 34.98C672.61 34.56 672.73 34.14 672.85 33.72C672.98 33.31 673.11 32.89 673.24 32.47C673.36 32.05 673.49 31.63 673.63 31.22C673.76 30.80 673.89 30.38 674.03 29.96C674.16 29.54 674.30 29.12 674.44 28.71C674.58 28.29 674.72 27.87 674.87 27.46C675.02 27.04 675.17 26.63 675.33 26.22C675.48 25.81 675.64 25.40 675.81 25.00C675.98 24.60 676.15 24.20 676.33 23.81C676.51 23.41 676.69 23.02 676.89 22.64C677.08 22.26 677.28 21.88 677.49 21.51C677.70 21.14 677.92 20.78 678.15 20.43C678.38 20.07 678.62 19.73 678.87 19.39C679.12 19.05 679.38 18.72 679.65 18.41C679.92 18.09 680.20 17.78 680.50 17.48C680.80 17.19 681.10 16.90 681.43 16.63C681.75 16.35 682.08 16.09 682.43 15.84C682.78 15.60 683.15 15.36 683.53 15.14C683.91 14.92 684.30 14.71 684.72 14.52C685.13 14.33 685.79 14.08 686.00 13.99" stroke="#e60a1c" stroke-width="2.2"/>
<path d="M737.60 43.00C737.88 44.20 738.48 46.72 739.30 50.20C740.12 53.68 741.97 61.62 742.50 63.90" stroke="#e60a1c" stroke-width="2.2"/>
</g>
<rect x="646.5" y="12.5" width="93.0" height="62.900000000000006" fill="#fff" stroke="#8c8c8c" stroke-width="0.7"/>
<line x1="651.20" y1="23.9" x2="671.80" y2="23.9" stroke="#e60a1c" stroke-width="2.2"/>
<circle cx="661.50" cy="44.1" r="4.5" fill="#69bd45"/>
<rect x="657.90" y="60.80" width="7.2" height="7.2" fill="#2c53ac"/>
<text x="674.50" y="29.6" letter-spacing="0.22">model A</text>
<text x="674.50" y="50.0" letter-spacing="0.22">model B</text>
<text x="674.50" y="70.2" letter-spacing="0.22">model C</text>
</svg>
</body></html>
